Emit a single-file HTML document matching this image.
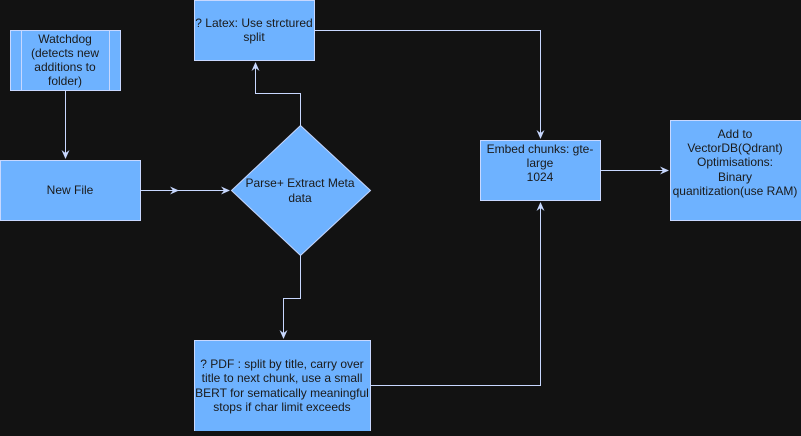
<!DOCTYPE html>
<html><head><style>
body{margin:0;background:#121212;}
.t{font-family:"Liberation Sans",sans-serif;font-size:12px;fill:#1a1a1a;text-anchor:middle;}
</style></head><body>
<svg width="801" height="431" xmlns="http://www.w3.org/2000/svg">
<defs><marker id="a" markerWidth="10" markerHeight="10" refX="8" refY="5" orient="auto" markerUnits="userSpaceOnUse"><path d="M0,1 L9,5 L0,9 L3,5 Z" fill="#c8d8ff"/></marker></defs>
<g fill="#6eb2ff" stroke="#c8d8ff" stroke-width="1">
<rect x="10.5" y="30.5" width="110" height="60"/>
<line x1="21.5" y1="30.5" x2="21.5" y2="90.5"/><line x1="109.5" y1="30.5" x2="109.5" y2="90.5"/>
<rect x="0.5" y="160.5" width="140" height="60"/>
<rect x="194.5" y="0.5" width="120" height="60"/>
<path d="M300.5,125.5 L370.5,190.5 L300.5,255.5 L231.5,190.5 Z"/>
<rect x="194.5" y="340.5" width="176" height="100"/>
<rect x="480.5" y="140.5" width="120" height="60"/>
<rect x="670.5" y="120.5" width="140" height="100"/>
</g>
<g fill="none" stroke="#c8d8ff" stroke-width="1">
<path d="M65.5,90.5 V158" marker-end="url(#a)"/>
<path d="M140.5,190.5 H178" marker-end="url(#a)"/>
<path d="M175,190.5 H229" marker-end="url(#a)"/>
<path d="M300.5,125.5 V93.5 H255.5 V63" marker-end="url(#a)"/>
<path d="M300.5,255.5 V298.5 H283.5 V338" marker-end="url(#a)"/>
<path d="M314.5,30.5 H540.5 V138" marker-end="url(#a)"/>
<path d="M370.5,385.5 H540.5 V203" marker-end="url(#a)"/>
<path d="M600.5,170.5 H668" marker-end="url(#a)"/>
</g>
<text class="t" x="65" y="43">Watchdog</text>
<text class="t" x="65" y="57">(detects new</text>
<text class="t" x="65" y="71">additions to</text>
<text class="t" x="65" y="85">folder)</text>
<text class="t" x="70" y="194">New File</text>
<text class="t" x="254" y="27">? Latex: Use strctured</text>
<text class="t" x="254" y="41">split</text>
<text class="t" x="300" y="187">Parse+ Extract Meta</text>
<text class="t" x="300" y="202">data</text>
<text class="t" x="282" y="368">? PDF : split by title, carry over</text>
<text class="t" x="282" y="382">title to next chunk, use a small</text>
<text class="t" x="282" y="397">BERT for sematically meaningful</text>
<text class="t" x="282" y="411">stops if char limit exceeds</text>
<text class="t" x="540" y="153">Embed chunks: gte-</text>
<text class="t" x="540" y="167">large</text>
<text class="t" x="540" y="181">1024</text>
<text class="t" x="735" y="138">Add to</text>
<text class="t" x="735" y="152">VectorDB(Qdrant)</text>
<text class="t" x="735" y="166">Optimisations:</text>
<text class="t" x="735" y="181">Binary</text>
<text class="t" x="735" y="195">quanitization(use RAM)</text>
</svg>
</body></html>
